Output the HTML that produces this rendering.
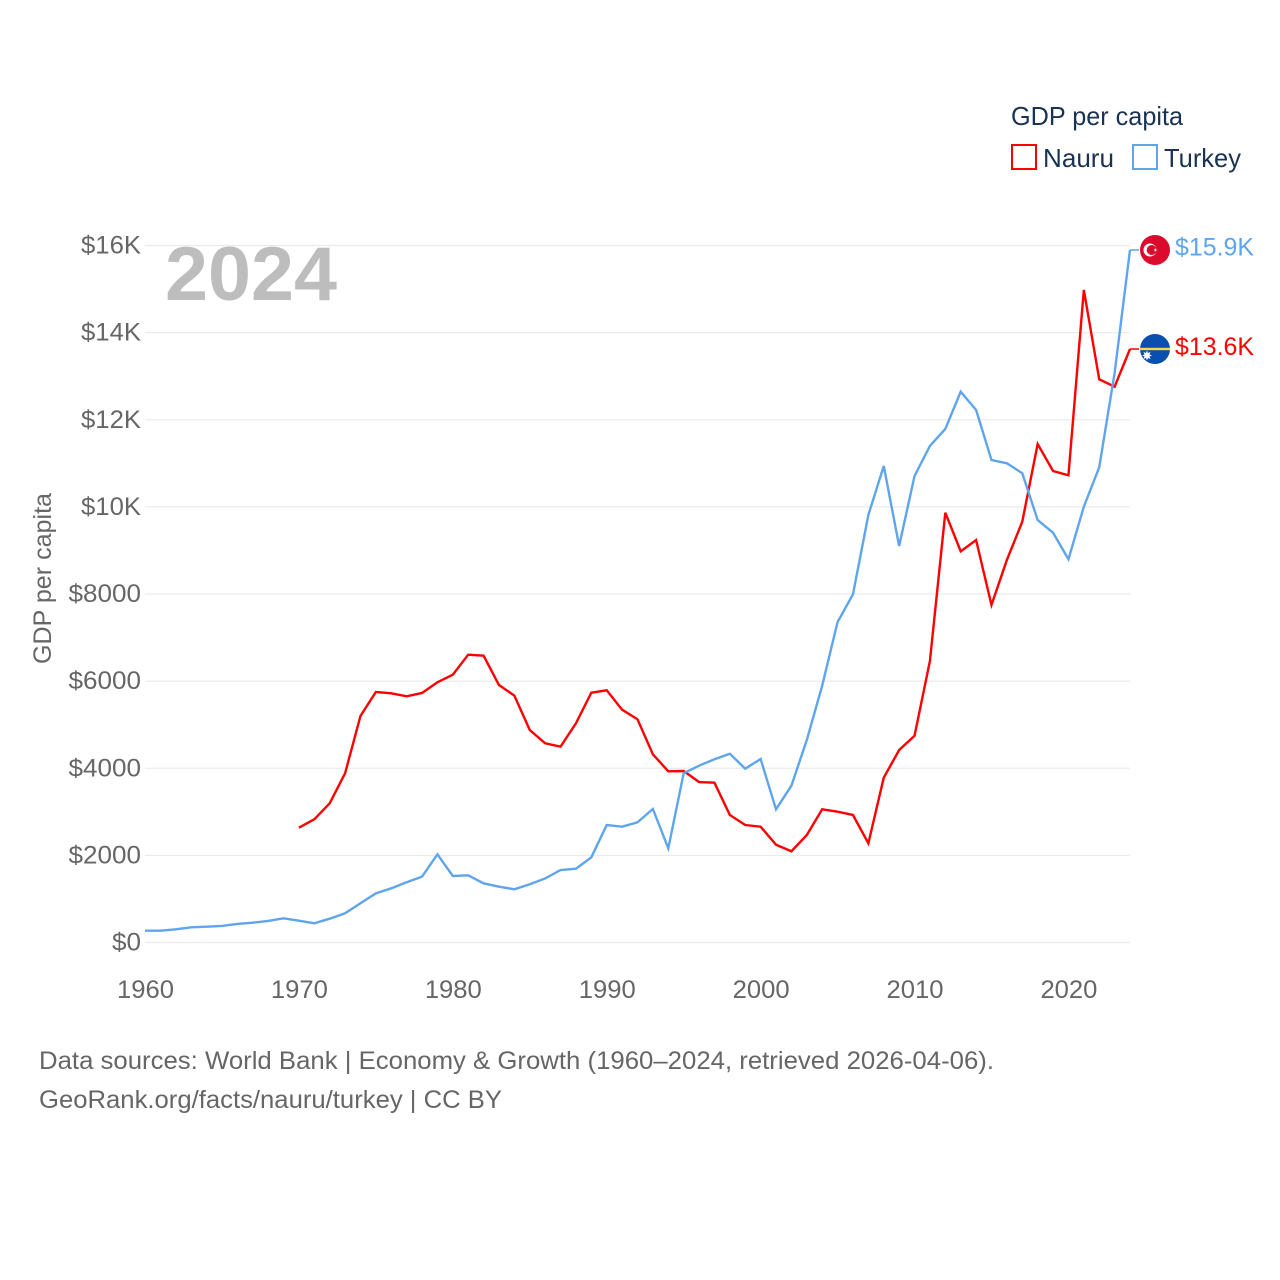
<!DOCTYPE html>
<html lang="en">
<head>
<meta charset="utf-8">
<title>GDP per capita: Nauru and Turkey</title>
<style>
html,body{margin:0;padding:0;background:#fff;}
svg{display:block;font-family:"Liberation Sans",sans-serif;}
</style>
</head>
<body>
<svg id="chart" xmlns="http://www.w3.org/2000/svg" width="1280" height="1280" viewBox="0 0 1280 1280">
  <rect width="1280" height="1280" fill="#ffffff"/>
  <g id="grid"></g>
  <g id="yticks"></g>
  <g id="xticks"></g>
  <text x="165" y="300" font-size="76" font-weight="700" fill="#bdbdbd" textLength="172" lengthAdjust="spacingAndGlyphs">2024</text>
  <text transform="translate(51 664) rotate(-90)" font-size="25" fill="#666666" textLength="171" lengthAdjust="spacingAndGlyphs">GDP per capita</text>
  <g id="series"></g>
  <g id="end-markers"></g>
  <g>
    <text x="1011" y="125" font-size="26" fill="#1a3352" textLength="172" lengthAdjust="spacingAndGlyphs">GDP per capita</text>
    <rect x="1012" y="145" width="24" height="24" fill="none" stroke="#ff0000" stroke-width="2"/>
    <text x="1043" y="167" font-size="26" fill="#1a3352" textLength="71" lengthAdjust="spacingAndGlyphs">Nauru</text>
    <rect x="1133" y="145" width="24" height="24" fill="none" stroke="#5ea5ee" stroke-width="2"/>
    <text x="1164" y="167" font-size="26" fill="#1a3352" textLength="77" lengthAdjust="spacingAndGlyphs">Turkey</text>
  </g>
  <g>
    <text x="39" y="1069" font-size="25" fill="#666666" textLength="955" lengthAdjust="spacingAndGlyphs">Data sources: World Bank | Economy &amp; Growth (1960–2024, retrieved 2026-04-06).</text>
    <text x="39" y="1108" font-size="25" fill="#666666" textLength="463" lengthAdjust="spacingAndGlyphs">GeoRank.org/facts/nauru/turkey | CC BY</text>
  </g>
</svg>
<script>
const firstYear = 1960;
const lastYear = 2024;
const yTickValues = [0, 2000, 4000, 6000, 8000, 10000, 12000, 14000, 16000];
const xTickYears = [1960, 1970, 1980, 1990, 2000, 2010, 2020];
const nauruValues = [null, null, null, null, null, null, null, null, null, null,
  2635, 2828, 3196, 3884, 5200, 5751, 5721, 5652, 5728, 5973,
  6148, 6607, 6584, 5911, 5666, 4878, 4573, 4495, 5032, 5734,
  5790, 5344, 5124, 4320, 3930, 3937, 3684, 3668, 2927, 2697,
  2658, 2245, 2094, 2468, 3058, 3003, 2927, 2277, 3783, 4419,
  4747, 6462, 9866, 8980, 9240, 7748, 8781, 9660, 11444, 10824,
  10725, 14979, 12929, 12759, 13624];
const turkeyValues = [271, 271, 303, 349, 363, 379, 425, 455, 494, 556,
  500, 441, 546, 670, 900, 1129, 1244, 1382, 1511, 2025,
  1527, 1543, 1359, 1281, 1221, 1336, 1470, 1664, 1694, 1956,
  2697, 2658, 2759, 3065, 2162, 3884, 4059, 4206, 4334, 3990,
  4212, 3058, 3600, 4649, 5895, 7357, 7993, 9814, 10939, 9102,
  10709, 11398, 11788, 12644, 12224, 11076, 11001, 10771, 9699, 9407,
  8797, 10004, 10909, 13073, 15897];

const NS = 'http://www.w3.org/2000/svg';
const plotLeft = 145, plotRight = 1130, plotBottom = 942.5, plotTop = 245.5, yMax = 16000;
const RED = '#ff0000', BLUE = '#5ea5ee';

function xScale(year) { return plotLeft + (year - firstYear) * (plotRight - plotLeft) / (lastYear - firstYear); }
function yScale(v) { return plotBottom - v * (plotBottom - plotTop) / yMax; }
function make(tag, attrs, parent) {
  const el = document.createElementNS(NS, tag);
  for (const k in attrs) el.setAttribute(k, attrs[k]);
  parent.appendChild(el);
  return el;
}
function fmtTick(v) { return v >= 10000 ? '$' + (v / 1000) + 'K' : '$' + v; }
function fmtEnd(v) { return '$' + (v / 1000).toFixed(1) + 'K'; }

const gridG = document.getElementById('grid');
const yG = document.getElementById('yticks');
yTickValues.forEach(function (v) {
  const line = make('line', { x1: plotLeft, x2: plotRight, y1: yScale(v), y2: yScale(v), stroke: '#ececec', 'stroke-width': 1.3 }, gridG);
  
  
  const s = fmtTick(v);
  const w = s.indexOf('K') >= 0 ? (s.length - 1) * 14.5 + 16.5 : s.length * 14.5;
  const t = make('text', { x: 141 - w, y: yScale(v) + 8, 'font-size': 25, fill: '#666666', textLength: w, lengthAdjust: 'spacingAndGlyphs' }, yG);
  
  
  t.textContent = s;
});

const xG = document.getElementById('xticks');
xTickYears.forEach(function (yr) {
  const t = make('text', { x: xScale(yr) - 28, y: 998, 'font-size': 25, fill: '#666666', textLength: 57, lengthAdjust: 'spacingAndGlyphs' }, xG);
  
  
  t.textContent = yr;
});

function linePoints(values) {
  const pts = [];
  values.forEach(function (v, i) {
    if (v !== null) pts.push(xScale(firstYear + i).toFixed(2) + ',' + yScale(v).toFixed(2));
  });
  return pts;
}
const seriesG = document.getElementById('series');
const nauruLine = make('polyline', { points: linePoints(nauruValues).join(' '), fill: 'none', stroke: RED, 'stroke-width': 2.4, 'stroke-linejoin': 'miter' }, seriesG);


const turkeyLine = make('polyline', { points: linePoints(turkeyValues).join(' '), fill: 'none', stroke: BLUE, 'stroke-width': 2.4, 'stroke-linejoin': 'miter' }, seriesG);



const endG = document.getElementById('end-markers');
const nauruLast = nauruValues[nauruValues.length - 1];
const turkeyLast = turkeyValues[turkeyValues.length - 1];
const ny = yScale(nauruLast), ty = yScale(turkeyLast);
const cx = 1155;

const nauruConn = make('line', { x1: plotRight, x2: cx - 16, y1: ny, y2: ny, stroke: RED, 'stroke-width': 1.5 }, endG);


const turkeyConn = make('line', { x1: plotRight, x2: cx - 16, y1: ty, y2: ty, stroke: BLUE, 'stroke-width': 1.5 }, endG);



// Turkey flag
const tf = make('g', { transform: 'translate(' + cx + ' ' + ty + ')' }, endG);


make('circle', { r: 15, fill: '#dc0a2d' }, tf);
make('circle', { cx: -5, cy: 0, r: 6.5, fill: '#ffffff' }, tf);
make('circle', { cx: -3.3, cy: 0, r: 5, fill: '#dc0a2d' }, tf);
make('polygon', { points: '4.5,0 0.9,1.2 3,-1.9 3,1.9 0.9,-1.2', fill: '#ffffff', transform: 'translate(-2 0)' }, tf);

// Nauru flag
const nf = make('g', { transform: 'translate(' + cx + ' ' + ny + ')' }, endG);


make('circle', { r: 15, fill: '#0a4fae' }, nf);
make('rect', { x: -15, y: -1.2, width: 30, height: 2.4, fill: '#fdd348' }, nf);
make('polygon', { points: '-8,1.5 -7,4 -4.5,3 -5.5,5.5 -3,6.5 -5.5,7.5 -4.5,10 -7,9 -8,11.5 -9,9 -11.5,10 -10.5,7.5 -13,6.5 -10.5,5.5 -11.5,3 -9,4', fill: '#ffffff' }, nf);

const tl = make('text', { x: 1175, y: ty + 5.5, 'font-size': 25, fill: BLUE, textLength: 79, lengthAdjust: 'spacingAndGlyphs' }, endG);


tl.textContent = fmtEnd(turkeyLast);
const nl = make('text', { x: 1175, y: ny + 6, 'font-size': 25, fill: RED, textLength: 79, lengthAdjust: 'spacingAndGlyphs' }, endG);


nl.textContent = fmtEnd(nauruLast);
</script>
</body>
</html>
